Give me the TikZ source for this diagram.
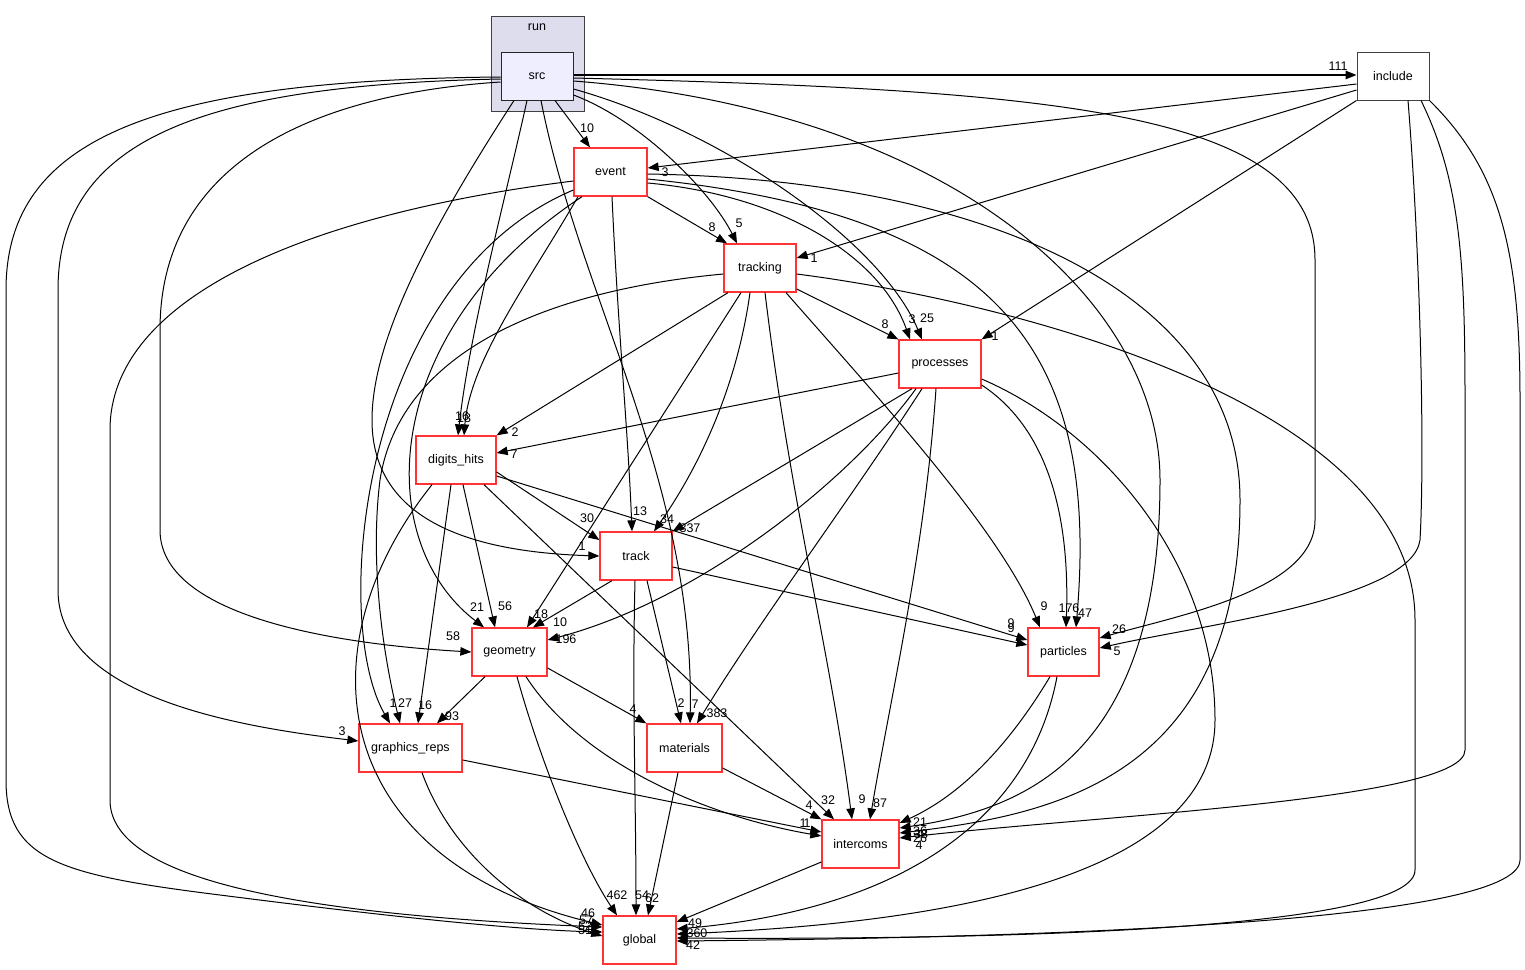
\documentclass[tikz,border=0pt]{standalone}
\usepackage{fontspec}
\setmainfont{Liberation Sans}
\usetikzlibrary{arrows.meta}
\definecolor{clusterfill}{HTML}{DDDDEE}
\definecolor{clusterline}{HTML}{404040}
\definecolor{srcfill}{HTML}{EEEEFF}
\definecolor{dirred}{HTML}{FF3333}
\begin{document}
\begin{tikzpicture}[x=1pt,y=-1pt,
  >={Triangle[length=11pt,width=8.5pt]},
  dirbox/.style={draw=dirred, line width=1.3pt, fill=white, inner sep=0pt,
    minimum width=72pt, minimum height=48pt, font=\fontsize{12.5}{14}\selectfont},
  srcbox/.style={draw=black!85, line width=1pt, fill=srcfill, inner sep=0pt,
    minimum width=72pt, minimum height=48pt, font=\fontsize{12.5}{14}\selectfont},
  incbox/.style={draw=black!75, line width=1pt, fill=white, inner sep=0pt,
    minimum width=72pt, minimum height=48pt, font=\fontsize{12.5}{14}\selectfont},
  clusterbox/.style={draw=clusterline, line width=1pt, fill=clusterfill, inner sep=0pt,
    minimum width=93pt, minimum height=95pt},
  lbl/.style={inner sep=0pt, font=\fontsize{12.5}{12}\selectfont},
  dep/.style={->, line width=1pt, black}
]
\useasboundingbox[fill=white] (0,0) rectangle (1525,969);

% cluster
\node[clusterbox] (run) at (537.5,63.5) {};
\node[lbl] (runlbl) at (537,27) {run};

% nodes
\node[srcbox] (src) at (537,76) {src};
\node[incbox] (inc) at (1393,76) {include};
\node[dirbox, minimum width=73pt] (ev) at (610.5,172) {event};
\node[dirbox] (trk) at (760,268) {tracking};
\node[dirbox, minimum width=82pt] (proc) at (940,364) {processes};
\node[dirbox, minimum width=80pt] (dh) at (456,460) {digits\_hits};
\node[dirbox] (track) at (636,556) {track};
\node[dirbox, minimum width=75pt] (geo) at (509.5,652) {geometry};
\node[dirbox, minimum width=71pt] (part) at (1063.5,652) {particles};
\node[dirbox, minimum width=103pt] (gr) at (410.5,748) {graphics\_reps};
\node[dirbox, minimum width=75pt] (mat) at (684.5,748) {materials};
\node[dirbox, minimum width=77pt] (ic) at (860.5,844) {intercoms};
\node[dirbox, minimum width=73pt] (glob) at (639.5,940) {global};

% ---- src
\draw[dep, line width=1.4pt] (src.east |- 0,75) -- (inc.west |- 0,75);
\draw[dep] (src.south -| 555,0) -- (ev.north -| 590,0);
\draw[dep] (src.east |- 0,95) .. controls (640,120) and (710,190) .. (trk.north -| 737,0);
\draw[dep] (src.east |- 0,89) .. controls (720,130) and (880,240) .. (proc.north -| 922,0);
\draw[dep] (src.east |- 0,81) .. controls (950,110) and (1160,300) .. (1160,480) .. controls (1160,760) and (1020,810) .. (ic.east |- 0,828);
\draw[dep] (src.east |- 0,78) .. controls (1050,90) and (1315,110) .. (1315,260) -- (1315,520) .. controls (1315,590) and (1180,615) .. (part.east |- 0,638);
\draw[dep] (src.south -| 527,0) .. controls (505,200) and (470,330) .. (dh.north -| 458,0);
\draw[dep] (src.south -| 541,0) .. controls (580,300) and (695,480) .. (mat.north -| 690,0);
\draw[dep] (src.south -| 514,0) .. controls (430,230) and (372,340) .. (372,420) .. controls (372,520) and (470,552) .. (track.west |- 0,556);
\draw[dep] (src.west |- 0,82) .. controls (300,95) and (160,170) .. (160,330) -- (160,530) .. controls (160,620) and (350,645) .. (geo.west |- 0,652);
\draw[dep] (src.west |- 0,79) .. controls (200,85) and (58,140) .. (58,290) -- (58,590) .. controls (58,700) and (250,728) .. (gr.west |- 0,741);
\draw[dep] (src.west |- 0,77) .. controls (150,80) and (6,140) .. (6,290) -- (6,780) .. controls (6,860) and (60,875) .. (220,895) .. controls (400,918) and (520,930) .. (glob.west |- 0,932);

% ---- event
\draw[dep] (ev.south east) -- (trk.north -| 727,0);
\draw[dep] (ev.east |- 0,183) .. controls (780,195) and (880,255) .. (proc.north -| 910,0);
\draw[dep] (ev.south -| 578,0) .. controls (530,280) and (470,360) .. (dh.north -| 464,0);
\draw[dep] (ev.south -| 612,0) .. controls (618,330) and (628,430) .. (track.north -| 632,0);
\draw[dep] (ev.south -| 582,0) .. controls (380,330) and (370,540) .. (geo.north -| 484,0);
\draw[dep] (ev.west |- 0,190) .. controls (360,280) and (330,620) .. (gr.north -| 390,0);
\draw[dep] (ev.west |- 0,181) .. controls (300,215) and (110,300) .. (110,430) -- (110,800) .. controls (110,880) and (300,915) .. (glob.west |- 0,927);
\draw[dep] (ev.east |- 0,179) .. controls (1000,215) and (1100,350) .. (part.north -| 1076,0);
\draw[dep] (ev.east |- 0,174) .. controls (1000,180) and (1240,300) .. (1240,500) .. controls (1240,780) and (1050,815) .. (ic.east |- 0,833);

% ---- include
\draw[dep] (inc.west |- 0,84) -- (ev.east |- 0,168);
\draw[dep] (inc.west |- 0,90) -- (trk.east |- 0,258);
\draw[dep] (inc.south west) -- (proc.north east);
\draw[dep] (inc.south -| 1408,0) .. controls (1420,250) and (1425,450) .. (1420,540) .. controls (1412,600) and (1200,625) .. (part.east |- 0,648);
\draw[dep] (inc.south -| 1421,0) .. controls (1460,180) and (1465,260) .. (1465,400) -- (1465,750) .. controls (1465,800) and (1100,815) .. (ic.east |- 0,838);
\draw[dep] (inc.south east) .. controls (1500,170) and (1520,250) .. (1520,400) -- (1520,860) .. controls (1520,925) and (1000,938) .. (glob.east |- 0,941);

% ---- tracking
\draw[dep] (trk.east |- 0,289) -- (proc.north west);
\draw[dep] (trk.south -| 728,0) -- (dh.north east);
\draw[dep] (trk.south -| 741,0) -- (geo.north -| 527,0);
\draw[dep] (trk.south -| 750,0) .. controls (735,400) and (690,480) .. (track.north -| 654,0);
\draw[dep] (trk.west |- 0,274) .. controls (550,290) and (400,350) .. (380,480) .. controls (370,560) and (382,650) .. (gr.north -| 400,0);
\draw[dep] (trk.south -| 765,0) .. controls (790,500) and (830,650) .. (ic.north -| 852,0);
\draw[dep] (trk.south -| 786,0) .. controls (880,400) and (1000,530) .. (part.north -| 1040,0);
\draw[dep] (trk.east |- 0,274) .. controls (1000,300) and (1415,400) .. (1415,620) -- (1415,870) .. controls (1415,930) and (1000,940) .. (glob.east |- 0,938);

% ---- processes
\draw[dep] (proc.west |- 0,373) -- (dh.east |- 0,453);
\draw[dep] (proc.south -| 912,0) -- (track.north east);
\draw[dep] (proc.south -| 916,0) .. controls (850,480) and (700,600) .. (geo.east |- 0,640);
\draw[dep] (proc.south -| 922,0) .. controls (850,500) and (760,620) .. (mat.north -| 697,0);
\draw[dep] (proc.south -| 936,0) .. controls (925,550) and (890,700) .. (ic.north -| 870,0);
\draw[dep] (proc.east |- 0,385) .. controls (1050,430) and (1070,520) .. (part.north -| 1066,0);
\draw[dep] (proc.east |- 0,379) .. controls (1100,430) and (1215,560) .. (1215,720) .. controls (1215,890) and (900,925) .. (glob.east |- 0,934);

% ---- digits_hits
\draw[dep] (dh.east |- 0,472) -- (track.west |- 0,540);
\draw[dep] (dh.east |- 0,476) -- (part.west |- 0,640);
\draw[dep] (dh.south -| 463,0) -- (geo.north -| 495,0);
\draw[dep] (dh.south -| 451,0) -- (gr.north -| 418,0);
\draw[dep] (dh.south -| 484,0) -- (ic.north -| 834,0);
\draw[dep] (dh.south -| 432,0) .. controls (300,650) and (330,860) .. (glob.west |- 0,925);

% ---- track
\draw[dep] (track.south -| 612,0) -- (geo.north -| 533,0);
\draw[dep] (track.east |- 0,567) -- (part.west |- 0,645);
\draw[dep] (track.south -| 647,0) -- (mat.north -| 681,0);
\draw[dep] (track.south -| 635,0) .. controls (632,700) and (636,800) .. (glob.north -| 636,0);

% ---- geometry
\draw[dep] (geo.south -| 485,0) -- (gr.north -| 437,0);
\draw[dep] (geo.east |- 0,668) -- (mat.north west);
\draw[dep] (geo.south -| 517,0) .. controls (540,760) and (580,860) .. (glob.north -| 617,0);
\draw[dep] (geo.south -| 526,0) .. controls (580,760) and (700,815) .. (ic.west |- 0,836);

% ---- particles
\draw[dep] (part.south -| 1050,0) .. controls (1000,760) and (950,800) .. (ic.east |- 0,823);
\draw[dep] (part.south -| 1057,0) .. controls (1030,820) and (900,910) .. (glob.east |- 0,929);

% ---- graphics_reps
\draw[dep] (gr.east |- 0,760) -- (ic.west |- 0,832);
\draw[dep] (gr.south -| 422,0) .. controls (450,850) and (520,910) .. (glob.west |- 0,936);

% ---- materials
\draw[dep] (mat.east |- 0,768) -- (ic.north west);
\draw[dep] (mat.south -| 678,0) -- (glob.north -| 648,0);

% ---- intercoms
\draw[dep] (ic.west |- 0,862) -- (glob.east |- 0,922);

% ---- labels
\node[lbl] (l1) at (1338,66) {111};
\node[lbl] (l2) at (587,128) {10};
\node[lbl] (l3) at (665,172) {3};
\node[lbl] (l4) at (712,227) {8};
\node[lbl] (l5) at (739,223) {5};
\node[lbl] (l6) at (814,258) {1};
\node[lbl] (l7) at (885,324) {8};
\node[lbl] (l8) at (912,319) {3};
\node[lbl] (l9) at (927,318) {25};
\node[lbl] (l10) at (995,336) {1};
\node[lbl] (l11) at (462,416) {16};
\node[lbl] (l12) at (464,418) {13};
\node[lbl] (l13) at (515,432) {2};
\node[lbl] (l14) at (514,454) {7};
\node[lbl] (l15) at (587,518) {30};
\node[lbl] (l16) at (640,511) {13};
\node[lbl] (l17) at (667,519) {34};
\node[lbl] (l18) at (690,528) {337};
\node[lbl] (l19) at (582,546) {1};
\node[lbl] (l20) at (477,607) {21};
\node[lbl] (l21) at (505,606) {56};
\node[lbl] (l22) at (541,614) {18};
\node[lbl] (l23) at (560,622) {10};
\node[lbl] (l24) at (566,639) {196};
\node[lbl] (l25) at (453,636) {58};
\node[lbl] (l26) at (1044,606) {9};
\node[lbl] (l27) at (1069,608) {176};
\node[lbl] (l28) at (1085,613) {47};
\node[lbl] (l29) at (1011,623) {9};
\node[lbl] (l30) at (1011,628) {9};
\node[lbl] (l31) at (1119,629) {26};
\node[lbl] (l32) at (1117,651) {5};
\node[lbl] (l33) at (342,731) {3};
\node[lbl] (l34) at (393,703) {1};
\node[lbl] (l35) at (405,703) {27};
\node[lbl] (l36) at (425,705) {16};
\node[lbl] (l37) at (452,716) {93};
\node[lbl] (l38) at (633,709) {4};
\node[lbl] (l39) at (681,703) {2};
\node[lbl] (l40) at (695,704) {7};
\node[lbl] (l41) at (717,713) {383};
\node[lbl] (l42) at (809,805) {4};
\node[lbl] (l43) at (828,800) {32};
\node[lbl] (l44) at (862,799) {9};
\node[lbl] (l45) at (880,803) {87};
\node[lbl] (l46) at (803,823) {1};
\node[lbl] (l47) at (807,823) {1};
\node[lbl] (l48) at (920,822) {21};
\node[lbl] (l49) at (920,831) {36};
\node[lbl] (l50) at (921,834) {38};
\node[lbl] (l51) at (920,838) {26};
\node[lbl] (l52) at (919,845) {4};
\node[lbl] (l53) at (617,895) {462};
\node[lbl] (l54) at (642,895) {54};
\node[lbl] (l55) at (652,898) {62};
\node[lbl] (l56) at (588,913) {46};
\node[lbl] (l57) at (586,920) {57};
\node[lbl] (l58) at (585,926) {52};
\node[lbl] (l59) at (585,930) {51};
\node[lbl] (l60) at (695,923) {49};
\node[lbl] (l61) at (697,933) {360};
\node[lbl] (l62) at (693,945) {42};
\end{tikzpicture}
\end{document}
